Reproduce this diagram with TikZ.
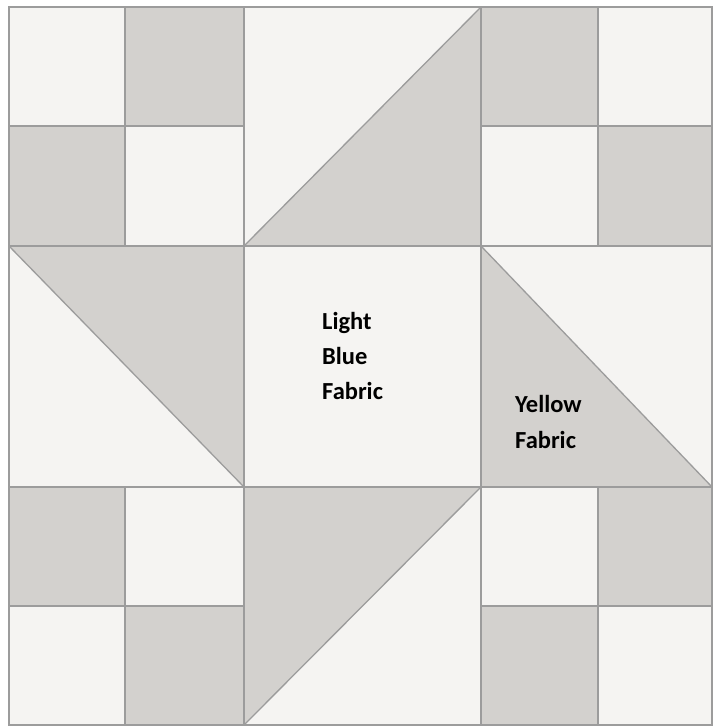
\documentclass[tikz,border=0pt]{standalone}
\usepackage{fontspec}
\setmainfont{Carlito}
\definecolor{lt}{HTML}{F5F4F2}
\definecolor{dk}{HTML}{D3D1CE}
\definecolor{ln}{HTML}{9C9C9C}
\begin{document}
\begin{tikzpicture}[x=1pt,y=-1pt,
  patch/.style={fill=dk},
  seam/.style={draw=ln,line width=1.3pt},
  lbl/.style={anchor=base west,inner sep=0pt,font=\bfseries\fontsize{24.5}{24.5}\selectfont,text=black}]
\useasboundingbox (0,0) rectangle (713,726);
\fill[white] (0,0) rectangle (713,726);
\fill[lt] (9,7) rectangle (712,725);
% corner four-patches
\fill[patch] (125,7) rectangle (244,126);
\fill[patch] (9,126) rectangle (125,246);
\fill[patch] (481,7) rectangle (598,126);
\fill[patch] (598,126) rectangle (712,246);
\fill[patch] (9,487) rectangle (125,606);
\fill[patch] (125,606) rectangle (244,725);
\fill[patch] (598,487) rectangle (712,606);
\fill[patch] (481,606) rectangle (598,725);
% half-square triangles
\fill[patch] (244,246) -- (481,7) -- (481,246) -- cycle;
\fill[patch] (9,246) -- (244,246) -- (244,487) -- cycle;
\fill[patch] (481,246) -- (712,487) -- (481,487) -- cycle;
\fill[patch] (244,487) -- (481,487) -- (244,725) -- cycle;
% seams
\draw[seam] (9,7) rectangle (712,725);
\draw[seam] (244,7) -- (244,725);
\draw[seam] (481,7) -- (481,725);
\draw[seam] (9,246) -- (712,246);
\draw[seam] (9,487) -- (712,487);
\draw[seam] (125,7) -- (125,246) (125,487) -- (125,725);
\draw[seam] (598,7) -- (598,246) (598,487) -- (598,725);
\draw[seam] (9,126) -- (244,126) (481,126) -- (712,126);
\draw[seam] (9,606) -- (244,606) (481,606) -- (712,606);
\draw[seam] (244,246) -- (481,7);
\draw[seam] (9,246) -- (244,487);
\draw[seam] (481,246) -- (712,487);
\draw[seam] (481,487) -- (244,725);
% labels
\node[lbl] (l1) at (322,329) {Light};
\node[lbl] (l2) at (322,364) {Blue};
\node[lbl] (l3) at (322,399) {Fabric};
\node[lbl] (y1) at (515,412) {Yellow};
\node[lbl] (y2) at (515,448) {Fabric};
\end{tikzpicture}
\end{document}
